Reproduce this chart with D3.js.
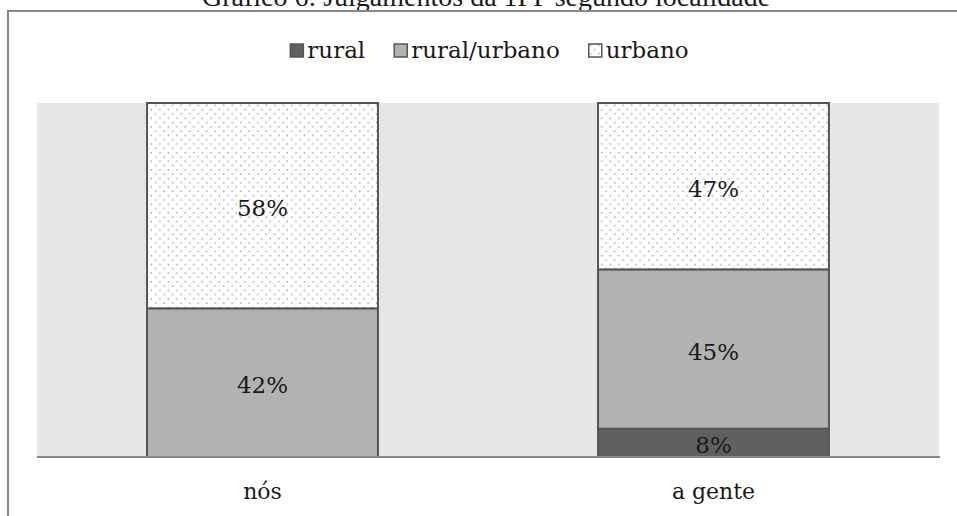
<!DOCTYPE html>
<html>
<head>
<meta charset="utf-8">
<script src="https://cdn.jsdelivr.net/npm/d3@7"></script>
<style>
  body { margin: 0; background: #fff; }
  svg { display: block; }
  text { font-family: "DejaVu Serif", serif; fill: #1a1a1a; }
</style>
</head>
<body>
<script>
const categories = ['nós', 'a gente'];
const seriesNames = ['rural', 'rural/urbano', 'urbano'];
const rural = [0, 8];
const ruralUrbano = [42, 45];
const urbano = [58, 47];
const titleText = 'Gráfico 6: Julgamentos da 1PP segundo localidade';

const W = 957, H = 516;
const plot = { left: 37, right: 939, top: 103, bottom: 457 };

const svg = d3.select('body').append('svg')
  .attr('width', W)
  .attr('height', H);

const defs = svg.append('defs');
const pat = defs.append('pattern')
  .attr('id', 'dots')
  .attr('patternUnits', 'userSpaceOnUse')
  .attr('width', 8.5)
  .attr('height', 8.6);
pat.append('rect').attr('width', 8.5).attr('height', 8.6).attr('fill', '#fff');
pat.append('rect').attr('x', 2).attr('y', 1.5).attr('width', 1.3).attr('height', 1.3).attr('fill', '#8c8c8c');
pat.append('rect').attr('x', 6.25).attr('y', 5.8).attr('width', 1.3).attr('height', 1.3).attr('fill', '#8c8c8c');

const fills = { 'rural': '#606060', 'rural/urbano': '#b2b2b2', 'urbano': 'url(#dots)' };

// title (partly cut off at top) and frame
svg.append('text')
  .attr('x', 486)
  .attr('y', 6)
  .attr('text-anchor', 'middle')
  .style('font-family', '"Liberation Serif", serif')
  .style('font-size', '28px')
  .text(titleText);

svg.append('rect')
  .attr('x', 8).attr('y', 11)
  .attr('width', W + 20).attr('height', H + 20)
  .attr('fill', 'none')
  .attr('stroke', '#888')
  .attr('stroke-width', 2);

// plot background
svg.append('rect')
  .attr('x', plot.left).attr('y', plot.top)
  .attr('width', plot.right - plot.left)
  .attr('height', plot.bottom - plot.top)
  .attr('fill', '#e6e6e6');

const x = d3.scaleBand()
  .domain(categories)
  .range([plot.left, plot.right])
  .paddingInner(0.488)
  .paddingOuter(0.244);

const y = d3.scaleLinear().domain([0, 100]).range([plot.bottom, plot.top]);

const data = categories.map((c, i) => ({
  cat: c,
  'rural': rural[i],
  'rural/urbano': ruralUrbano[i],
  'urbano': urbano[i]
}));

const stacked = d3.stack().keys(seriesNames)(data);

const layers = svg.selectAll('.layer')
  .data(stacked)
  .enter()
  .append('g')
  .attr('class', 'layer')
  .attr('fill', d => fills[d.key]);

layers.selectAll('rect')
  .data(d => d.filter(s => s[1] - s[0] > 0))
  .enter()
  .append('rect')
  .attr('x', d => x(d.data.cat))
  .attr('y', d => y(d[1]))
  .attr('width', x.bandwidth())
  .attr('height', d => y(d[0]) - y(d[1]))
  .attr('stroke', '#555')
  .attr('stroke-width', 2);

layers.selectAll('text')
  .data(d => d.filter(s => s[1] - s[0] > 0))
  .enter()
  .append('text')
  .attr('x', d => x(d.data.cat) + x.bandwidth() / 2)
  .attr('y', d => (y(d[0]) + y(d[1])) / 2 + 10.5)
  .attr('text-anchor', 'middle')
  .style('font-size', '23px')
  .text(d => `${d[1] - d[0]}%`);

// category axis
const xAxis = svg.append('g')
  .attr('class', 'x axis')
  .attr('transform', `translate(0, ${plot.bottom})`)
  .call(d3.axisBottom(x).tickSize(0).tickPadding(0));

xAxis.select('.domain')
  .attr('d', `M${plot.left},0H${plot.right + 1}`)
  .attr('stroke', '#878787')
  .attr('stroke-width', 2);

xAxis.selectAll('.tick text')
  .attr('y', 42)
  .attr('dy', 0)
  .style('font-family', '"DejaVu Serif", serif')
  .style('font-size', '22px')
  .attr('fill', '#1a1a1a');

// legend
const legend = svg.append('g').attr('class', 'legend');
let lx = 0;
seriesNames.forEach(name => {
  const item = legend.append('g').attr('transform', `translate(${lx},0)`);
  item.append('rect')
    .attr('x', 1).attr('y', 44)
    .attr('width', 13).attr('height', 13)
    .attr('fill', fills[name])
    .attr('stroke', '#555')
    .attr('stroke-width', 1.5);
  const t = item.append('text')
    .attr('x', 18)
    .attr('y', 58)
    .style('font-size', '23px')
    .text(name);
  lx += 18 + t.node().getComputedTextLength() + 28;
});
const legendWidth = lx - 28;
legend.attr('transform', `translate(${489 - legendWidth / 2},0)`);
</script>
</body>
</html>
